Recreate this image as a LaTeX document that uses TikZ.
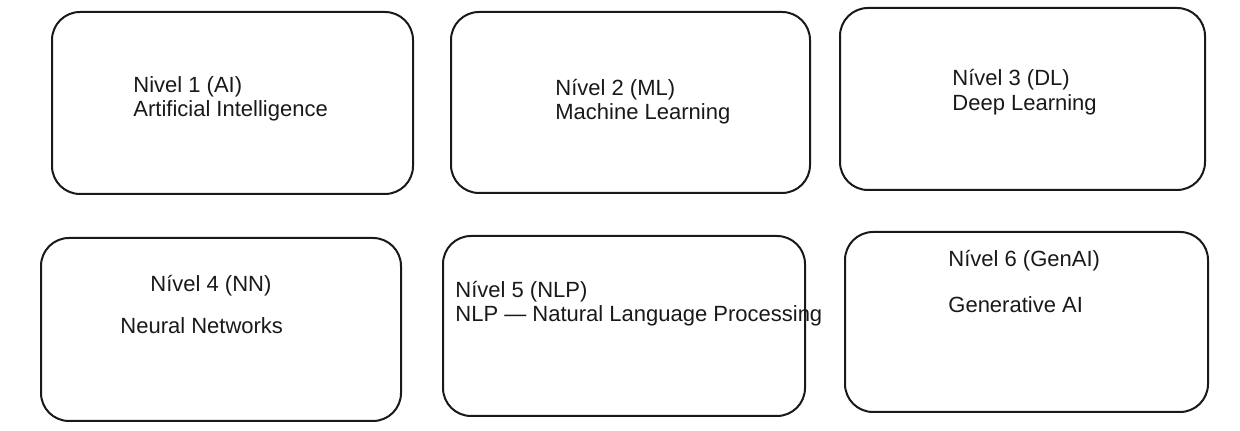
\documentclass[tikz,border=0pt]{standalone}
\usepackage{fontspec}
\setmainfont{Liberation Sans}
\usetikzlibrary{fit}
\tikzset{
	box/.style={draw=black!90, line width=1pt, rounded corners=14pt, inner sep=0pt},
	lbl/.style={inner sep=0pt, anchor=base west, text=black!90, font=\fontsize{11}{13}\selectfont}
}
\begin{document}
\begin{tikzpicture}[x=0.5pt,y=-0.5pt]
			\useasboundingbox (0,0) rectangle (1240,431);
			\node [box, fit={(52,12) (413,194)}] (b1) {};
			\node [box, fit={(451,12) (810,193)}] (b2) {};
			\node [box, fit={(840,8) (1205,190)}] (b3) {};
			\node [box, fit={(41,238) (401,421)}] (b4) {};
			\node [box, fit={(443,236) (805,416)}] (b5) {};
			\node [box, fit={(845,232) (1208,412)}] (b6) {};
			\node [lbl] (t1a) at (133,93) {Nivel 1 (AI)};
			\node [lbl] (t1b) at (133,117) {Artificial Intelligence};
			\node [lbl] (t2a) at (555,96) {Nível 2 (ML)};
			\node [lbl] (t2b) at (555,120) {Machine Learning};
			\node [lbl] (t3a) at (952,86) {Nível 3 (DL)};
			\node [lbl] (t3b) at (952,111) {Deep Learning};
			\node [lbl] (t4a) at (150,292) {Nível 4 (NN)};
			\node [lbl] (t4b) at (120,334) {Neural Networks};
			\node [lbl] (t5a) at (455,298) {Nível 5 (NLP)};
			\node [lbl] (t5b) at (455,322) {NLP — Natural Language Processing};
			\node [lbl] (t6a) at (948,267) {Nível 6 (GenAI)};
			\node [lbl] (t6b) at (948,313) {Generative AI};
		\end{tikzpicture}
\end{document}
